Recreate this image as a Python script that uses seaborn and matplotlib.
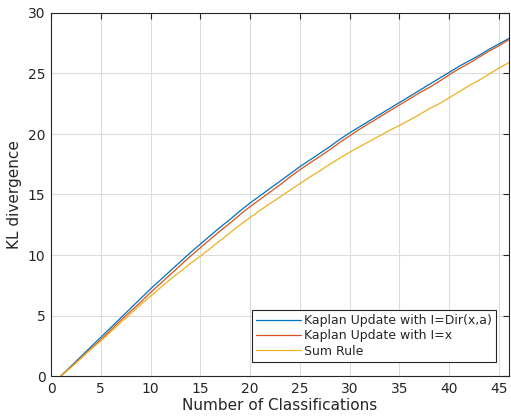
import numpy as np
import pandas as pd
import matplotlib
matplotlib.use("Agg")
import matplotlib.pyplot as plt
import seaborn as sns

n_class = list(range(1, 47))
kaplan_dir = [0.0, 0.8, 1.6, 2.4, 3.2, 4.0, 4.8, 5.6, 6.4, 7.2,
              7.95, 8.7, 9.45, 10.2, 10.9, 11.6, 12.3, 12.95, 13.65, 14.3,
              14.9, 15.5, 16.1, 16.7, 17.3, 17.85, 18.4, 18.95, 19.55, 20.1,
              20.6, 21.1, 21.6, 22.1, 22.6, 23.1, 23.6, 24.1, 24.6, 25.1,
              25.6, 26.05, 26.5, 27.0, 27.45, 27.9]
kaplan_x = [0.0, 0.75, 1.5, 2.25, 3.0, 3.8, 4.6, 5.35, 6.1, 6.9,
            7.65, 8.4, 9.15, 9.9, 10.6, 11.3, 12.0, 12.65, 13.35, 14.0,
            14.6, 15.2, 15.8, 16.45, 17.05, 17.6, 18.15, 18.7, 19.3, 19.85,
            20.4, 20.9, 21.4, 21.9, 22.4, 22.9, 23.4, 23.85, 24.35, 24.9,
            25.4, 25.85, 26.35, 26.85, 27.3, 27.8]
sum_rule = [0.0, 0.7, 1.45, 2.2, 2.9, 3.65, 4.4, 5.15, 5.9, 6.6,
            7.3, 8.0, 8.65, 9.3, 9.9, 10.55, 11.2, 11.85, 12.5, 13.1,
            13.7, 14.25, 14.8, 15.35, 15.9, 16.45, 16.95, 17.5, 18.0, 18.5,
            18.95, 19.4, 19.85, 20.3, 20.7, 21.15, 21.6, 22.1, 22.5, 23.0,
            23.5, 24.0, 24.45, 24.95, 25.45, 25.9]

labels = ["Kaplan Update with I=Dir(x,a)", "Kaplan Update with I=x", "Sum Rule"]
colors = ["#0072BD", "#D95319", "#EDB120"]

df = pd.concat([
    pd.DataFrame({"x": n_class, "y": v, "series": lab})
    for v, lab in zip([kaplan_dir, kaplan_x, sum_rule], labels)
])

sns.set_style("white")
plt.rcParams['font.family'] = ['DejaVu Sans']

fig = plt.figure(figsize=(5.11, 4.19), dpi=100)
ax = fig.add_axes([51/511, 43/419, 458/511, 363/419])
sns.lineplot(data=df, x="x", y="y", hue="series", palette=colors,
             hue_order=labels, linewidth=0.9, ax=ax)

ax.set_xlim(0, 46)
ax.set_ylim(0, 30)
ax.set_xticks(range(0, 46, 5))
ax.set_yticks(range(0, 31, 5))
ax.grid(True, color="#dcdcdc", linewidth=0.8)
ax.set_axisbelow(True)
for s in ax.spines.values():
    s.set_visible(True)
    s.set_color("#262626")
    s.set_linewidth(0.8)
ax.tick_params(direction="in", length=4, width=0.8, colors="#262626",
               labelsize=10, top=True, right=True, pad=4)
ax.set_xlabel("Number of Classifications", fontsize=11, color="#262626", labelpad=2)
ax.set_ylabel("KL divergence", fontsize=11, color="#262626", labelpad=4)

leg = ax.legend(loc="lower right", bbox_to_anchor=(496/511, 57/419),
                bbox_transform=fig.transFigure, fontsize=9, frameon=True,
                fancybox=False, edgecolor="#262626", framealpha=1,
                handlelength=3.6, handletextpad=0.2, borderpad=0.35,
                labelspacing=0.18, borderaxespad=0)
leg.get_frame().set_linewidth(0.8)

fig.savefig("out.png", dpi=100)
